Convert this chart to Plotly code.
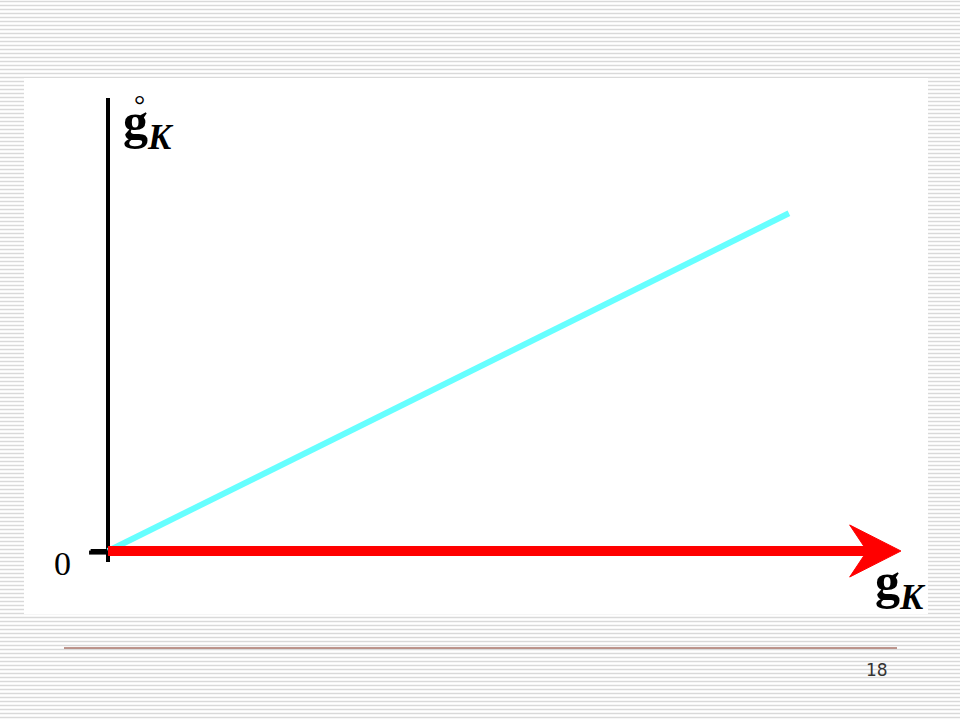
import plotly.graph_objects as go

# data (axis units: origin at the corner of the two axes)
cyan_x = [0, 8.63]
cyan_y = [0, 4.28]

arrow_x = [0, 9.62]          # red shaft along the horizontal axis
arrow_y = [0, 0]
head_x = [10.05, 9.40, 9.62, 9.40, 10.05]   # arrow head outline
head_y = [0, 0.33, 0, -0.33, 0]

vaxis_x = [0, 0]
vaxis_y = [-0.14, 5.74]
haxis_x = [-0.22, 10.0]
haxis_y = [0, 0]
tick_x = [-0.24, 0]
tick_y = [-0.02, -0.02]

zero_label = "0"
x_label = "<b>g</b><sub><b><i>K</i></b></sub>"
y_label = "<b>g</b><sub><b><i>K</i></b></sub>"
page_no = "18"

PX = 78.9            # pixels per unit
OX, OY = 108, 551    # origin in pixels

fig = go.Figure()

fig.add_trace(go.Scatter(x=haxis_x, y=haxis_y, mode="lines",
                         line=dict(color="black", width=4)))
fig.add_trace(go.Scatter(x=vaxis_x, y=vaxis_y, mode="lines",
                         line=dict(color="black", width=4)))
fig.add_trace(go.Scatter(x=tick_x, y=tick_y, mode="lines",
                         line=dict(color="black", width=4)))
fig.add_trace(go.Scatter(x=cyan_x, y=cyan_y, mode="lines",
                         line=dict(color="#66ffff", width=6)))
fig.add_trace(go.Scatter(x=arrow_x, y=arrow_y, mode="lines",
                         line=dict(color="#ff0000", width=10)))
fig.add_trace(go.Scatter(x=head_x, y=head_y, mode="lines", fill="toself",
                         fillcolor="#ff0000", line=dict(color="#ff0000", width=1)))

# striped slide background + white panel
shapes = []
for k in range(180):
    y = 1 - (4 * k + 1.5) / 720
    shapes.append(dict(type="line", xref="paper", yref="paper", x0=0, x1=1, y0=y, y1=y,
                       line=dict(color="#d9d9d9", width=1.3), layer="below"))
shapes.append(dict(type="rect", xref="paper", yref="paper",
                   x0=24 / 960, x1=928 / 960, y0=1 - 614 / 720, y1=1 - 78 / 720,
                   fillcolor="white", line=dict(width=0), layer="below"))
shapes.append(dict(type="line", xref="paper", yref="paper",
                   x0=64 / 960, x1=897 / 960, y0=1 - 648 / 720, y1=1 - 648 / 720,
                   line=dict(color="#7f2f1f", width=1.2), layer="below"))

serif = "Liberation Serif"
annotations = [
    dict(x=-0.58, y=-0.16, text=zero_label, showarrow=False,
         font=dict(family=serif, size=34, color="black")),
    dict(x=0.16, y=5.40, text=y_label, showarrow=False, xanchor="left", yanchor="middle",
         font=dict(family=serif, size=50, color="black")),
    dict(x=0.40, y=5.66, text="°", showarrow=False,
         font=dict(family=serif, size=28, color="black")),
    dict(x=9.69, y=-0.43, text=x_label, showarrow=False, xanchor="left", yanchor="middle",
         font=dict(family=serif, size=50, color="black")),
    dict(x=877 / 960, y=1 - 670 / 720, xref="paper", yref="paper", text=page_no,
         xanchor="center", yanchor="middle",
         showarrow=False, font=dict(family="DejaVu Sans", size=17, color="#333333")),
]

fig.update_layout(
    width=960, height=720, autosize=False,
    margin=dict(l=0, r=0, t=0, b=0),
    paper_bgcolor="white", plot_bgcolor="rgba(0,0,0,0)",
    showlegend=False,
    xaxis=dict(range=[-OX / PX, (960 - OX) / PX], visible=False, fixedrange=True),
    yaxis=dict(range=[-(720 - OY) / PX, OY / PX], visible=False, fixedrange=True),
    shapes=shapes,
    annotations=annotations,
)

fig.write_html("out.html", config=dict(displayModeBar=False),
               post_script="document.body.style.margin='0';document.body.style.overflow='hidden';")
